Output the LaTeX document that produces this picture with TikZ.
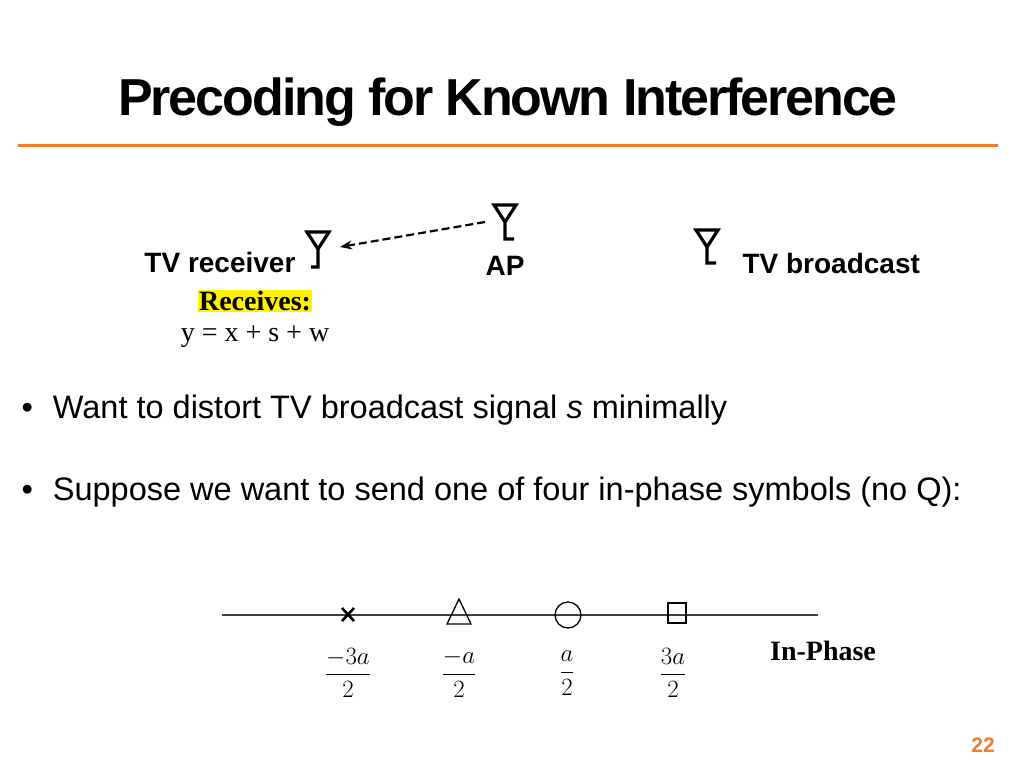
\documentclass[tikz,border=0pt]{standalone}
\usepackage{fontspec}
\setmainfont{Liberation Serif}
\setsansfont{Liberation Sans}
\usetikzlibrary{arrows.meta}
\definecolor{orng}{RGB}{240,125,40}
\begin{document}
\begin{tikzpicture}[x=1pt,y=-1pt,
  ant/.style={line width=3.2pt},
  lbl/.style={font=\sffamily\bfseries\fontsize{28}{32}\selectfont},
  bul/.style={font=\sffamily\fontsize{32.5}{38}\selectfont,anchor=west},
  frac/.style={font=\fontsize{25}{30}\selectfont}]
\useasboundingbox (0,0) rectangle (1024,768);
\node[font=\sffamily\bfseries\fontsize{52}{60}\selectfont] (title) at (508,102) {\addfontfeature{LetterSpace=-4}Precoding for Known Interference};
\draw[orng,line width=3pt] (18,145) -- (998,145);
% antennas
\draw[ant] (307,232) -- (329,232) -- (318,249) -- cycle (318,249) -- (318,267) -- (311,267);
\coordinate (rx) at (340,247);
\draw[ant] (494,205) -- (516,205) -- (505,222) -- cycle (505,222) -- (505,239) -- (514,239);
\coordinate (ap) at (485,222);
\draw[ant] (696,230) -- (718,230) -- (707,247) -- cycle (707,247) -- (707,263) -- (716,263);
\draw[dashed,dash pattern=on 8pt off 4pt,line width=2.2pt,-{Stealth[length=12pt]}] (ap) -- (rx);
\node[lbl,anchor=east] (tvr) at (299,262) {TV receiver};
\node[lbl] (apl) at (505,266) {AP};
\node[lbl,anchor=west] (tvb) at (739,263) {TV broadcast};
\node[fill=yellow,inner sep=1pt,font=\bfseries\fontsize{28}{32}\selectfont] (rec) at (255,301) {Receives:};
\node[font=\fontsize{28}{32}\selectfont] (eq) at (255,337) {y = x + s + w};
\node[bul] (b1) at (18,410) {\textbullet\hspace{20pt}Want to distort TV broadcast signal \textit{s} minimally};
\node[bul] (b2) at (18,492) {\textbullet\hspace{20pt}Suppose we want to send one of four in-phase symbols (no Q):};
% axis
\draw[line width=1.5pt,black!75] (222,615) -- (818,615);
\draw[line width=2.6pt] (342,608) -- (354,621) (342,621) -- (354,608);
\draw[line width=1.3pt] (459,599) -- (447,624) -- (471,624) -- cycle;
\draw[line width=1.3pt] (568,615) circle (13);
\draw[line width=1.3pt] (668,603) rectangle (686,623);
\node[frac] (f1) at (348,673) {$\displaystyle\frac{-3a}{2}$};
\node[frac] (f2) at (459,673) {$\displaystyle\frac{-a}{2}$};
\node[frac] (f3) at (567,673) {$\displaystyle\frac{a}{2}$};
\node[frac] (f4) at (673,673) {$\displaystyle\frac{3a}{2}$};
\node[font=\bfseries\fontsize{28}{32}\selectfont] (ip) at (823,651) {In-Phase};
\node[font=\sffamily\bfseries\fontsize{21}{24}\selectfont,text=orng] (pg) at (983,745) {22};
\end{tikzpicture}
\end{document}
